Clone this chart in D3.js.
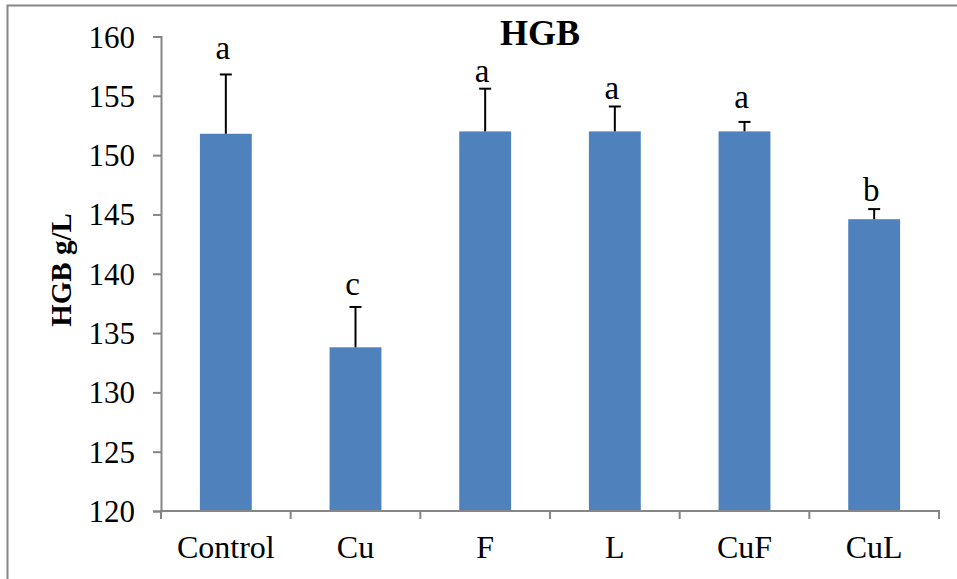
<!DOCTYPE html>
<html>
<head>
<meta charset="utf-8">
<script src="https://cdn.jsdelivr.net/npm/d3@7"></script>
<style>
  html, body { margin: 0; padding: 0; background: #fff; }
  svg { display: block; }
</style>
</head>
<body>
<svg id="chart" width="957" height="579"></svg>
<script>
// Haemoglobin per treatment group (g/L), mean with SD, plus significance letters
const groups = ["Control", "Cu", "F", "L", "CuF", "CuL"];
const means = [151.8, 133.8, 152.0, 152.0, 152.0, 144.6];
const sds = [5.0, 3.4, 3.6, 2.1, 0.8, 0.85];
const letters = ["a", "c", "a", "a", "a", "b"];
// value level at which each significance letter sits
const letterLevel = [158.1, 138.2, 156.2, 154.7, 154.0, 146.1];
const yTicks = [120, 125, 130, 135, 140, 145, 150, 155, 160];

const FONT = "'Liberation Serif', 'Times New Roman', serif";
const svg = d3.select("#chart");
const W = 957, H = 579;
const plot = { left: 161, right: 939, top: 36.5, bottom: 511 };
const axisGrey = "#868686";

// outer chart frame
svg.append("rect")
  .attr("x", 7.5).attr("y", 5.5)
  .attr("width", W + 10).attr("height", H + 10)
  .attr("fill", "none").attr("stroke", axisGrey).attr("stroke-width", 2);

const x = d3.scaleBand().domain(groups).range([plot.left, plot.right]).paddingInner(0.6).paddingOuter(0.3);
const xBand = d3.scaleBand().domain(groups).range([plot.left, plot.right]);
const y = d3.scaleLinear().domain([120, 160]).range([plot.bottom, plot.top]);

// y axis
const yAxis = svg.append("g")
  .attr("transform", `translate(${plot.left},0)`)
  .call(d3.axisLeft(y).tickValues(yTicks).tickSize(8).tickPadding(18).tickFormat(d3.format("d")));
yAxis.attr("font-family", FONT);
yAxis.select(".domain").attr("stroke", axisGrey).attr("stroke-width", 2);
yAxis.selectAll(".tick line").attr("stroke", axisGrey).attr("stroke-width", 2);
yAxis.selectAll(".tick text").attr("font-size", 31).attr("dy", "0.34em").attr("fill", "#000");

// bars
svg.append("g").selectAll("rect")
  .data(groups)
  .join("rect")
  .attr("x", d => x(d))
  .attr("width", x.bandwidth())
  .attr("y", (d, i) => y(means[i]))
  .attr("height", (d, i) => y(120) - y(means[i]))
  .attr("fill", "#4F81BD");

// x axis with ticks at category boundaries
const xAxisG = svg.append("g");
xAxisG.append("line")
  .attr("x1", plot.left).attr("x2", plot.right)
  .attr("y1", y(120)).attr("y2", y(120))
  .attr("stroke", axisGrey).attr("stroke-width", 2);
const bounds = groups.map(g => xBand(g)).concat([xBand(groups[groups.length - 1]) + xBand.bandwidth()]);
xAxisG.selectAll("line.tk")
  .data(bounds)
  .join("line")
  .attr("class", "tk")
  .attr("x1", d => d).attr("x2", d => d)
  .attr("y1", y(120) - 1).attr("y2", y(120) + 8)
  .attr("stroke", axisGrey).attr("stroke-width", 2);
xAxisG.selectAll("text")
  .data(groups)
  .join("text")
  .attr("x", d => xBand(d) + xBand.bandwidth() / 2)
  .attr("y", 558)
  .attr("text-anchor", "middle")
  .attr("font-family", FONT)
  .attr("font-size", 32)
  .text(d => d);

// error bars (upper side only)
const err = svg.append("g").attr("stroke", "#000").attr("stroke-width", 2);
groups.forEach((g, i) => {
  const cx = x(g) + x.bandwidth() / 2;
  err.append("line")
    .attr("x1", cx).attr("x2", cx)
    .attr("y1", y(means[i])).attr("y2", y(means[i] + sds[i]));
  err.append("line")
    .attr("x1", cx - 6).attr("x2", cx + 6)
    .attr("y1", y(means[i] + sds[i])).attr("y2", y(means[i] + sds[i]));
});

// significance letters
svg.append("g").selectAll("text")
  .data(groups)
  .join("text")
  .attr("x", d => x(d) + x.bandwidth() / 2 - 3)
  .attr("y", (d, i) => y(letterLevel[i]))
  .attr("text-anchor", "middle")
  .attr("font-family", FONT)
  .attr("font-size", 33)
  .text((d, i) => letters[i]);

// title
svg.append("text")
  .attr("x", 540).attr("y", 44.5)
  .attr("text-anchor", "middle")
  .attr("font-family", FONT)
  .attr("font-size", 36)
  .attr("font-weight", "bold")
  .text("HGB");

// y axis title
svg.append("text")
  .attr("transform", "translate(71,270) rotate(-90)")
  .attr("text-anchor", "middle")
  .attr("font-family", FONT)
  .attr("font-size", 29)
  .attr("font-weight", "bold")
  .text("HGB g/L");
</script>
</body>
</html>
